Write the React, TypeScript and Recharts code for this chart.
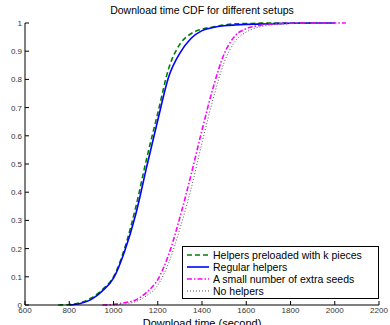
import React from "react";
import { LineChart, Line, XAxis, YAxis } from "recharts";

const times = [
  750, 800, 850, 900, 950, 1000, 1050, 1100, 1150, 1200, 1250, 1300, 1350,
  1400, 1450, 1500, 1550, 1600, 1650, 1700, 1800, 1900, 2000, 2050,
];

// CDF values per setup (null = not plotted at that time)
const preloaded = [
  0, 0.002, 0.008, 0.025, 0.055, 0.1, 0.2, 0.345, 0.52, 0.68, 0.84, 0.925,
  0.962, 0.978, 0.986, 0.993, 0.997, 0.998, 0.999, 1, 1, 1, null, null,
];
const regular = [
  null, 0, 0.005, 0.02, 0.05, 0.095, 0.19, 0.32, 0.49, 0.655, 0.81, 0.893,
  0.945, 0.973, 0.984, 0.99, 0.993, 0.995, 0.996, 0.997, 0.999, 1, 1, null,
];
const extraSeeds = [
  null, null, null, null, 0, 0.002, 0.008, 0.018, 0.045, 0.09, 0.18, 0.31,
  0.46, 0.62, 0.77, 0.89, 0.955, 0.98, 0.99, 0.996, 0.999, 1, 1, 1,
];
const noHelpers = [
  null, null, null, null, null, 0, 0.004, 0.012, 0.033, 0.07, 0.15, 0.27,
  0.41, 0.575, 0.73, 0.86, 0.935, 0.968, 0.984, 0.992, 0.998, 1, 1, null,
];

const xTicks = [600, 800, 1000, 1200, 1400, 1600, 1800, 2000, 2200];
const yTicks = [0, 0.1, 0.2, 0.3, 0.4, 0.5, 0.6, 0.7, 0.8, 0.9, 1];

const series = [
  { key: "preloaded", name: "Helpers preloaded with k pieces", color: "#007f00", dash: "5 3", width: 1.6 },
  { key: "regular", name: "Regular helpers", color: "#0000ff", dash: undefined, width: 1.6 },
  { key: "extraSeeds", name: "A small number of extra seeds", color: "#ff00ff", dash: "5 2 1.5 2", width: 1.6 },
  { key: "noHelpers", name: "No helpers", color: "#555555", dash: "1 2", width: 1 },
];

const data = times.map((t, i) => ({
  time: t,
  preloaded: preloaded[i],
  regular: regular[i],
  extraSeeds: extraSeeds[i],
  noHelpers: noHelpers[i],
}));

const FONT = "'Liberation Sans', Arial, sans-serif";

function XTick(props: any) {
  const { x, y, payload } = props;
  return (
    <g>
      <line x1={x} y1={y - 2} x2={x} y2={y - 6} stroke="#000" strokeWidth={1} />
      <text x={x} y={y + 6} textAnchor="middle" fontSize={8} fill="#333" fontFamily={FONT}>
        {payload.value}
      </text>
    </g>
  );
}

function YTick(props: any) {
  const { x, y, payload } = props;
  return (
    <g>
      <line x1={x + 3} y1={y} x2={x + 7} y2={y} stroke="#000" strokeWidth={1} />
      <text x={x} y={y + 3} textAnchor="end" fontSize={8} fill="#333" fontFamily={FONT}>
        {payload.value}
      </text>
    </g>
  );
}

function LegendBox() {
  return (
    <div
      style={{
        position: "absolute",
        left: 182,
        top: 246,
        border: "1.5px solid #000",
        background: "#fff",
        width: 197,
        padding: "2px 0 1px 0",
        fontFamily: FONT,
        fontSize: 10.5,
        color: "#000",
        boxSizing: "border-box",
      }}
    >
      {series.map((s) => (
        <div key={s.key} style={{ display: "flex", alignItems: "center", height: 12 }}>
          <svg width={30} height={10} style={{ flex: "none" }}>
            <line
              x1={4}
              y1={5}
              x2={26}
              y2={5}
              stroke={s.color}
              strokeWidth={s.width}
              strokeDasharray={s.dash}
            />
          </svg>
          <span style={{ lineHeight: "11px", whiteSpace: "nowrap" }}>{s.name}</span>
        </div>
      ))}
    </div>
  );
}

export default function App() {
  return (
    <div style={{ position: "absolute", left: 0, top: 0, width: 390, height: 325, background: "#fff", overflow: "hidden" }}>
      <div
        style={{
          position: "absolute",
          top: 4,
          left: 25,
          width: 354,
          textAlign: "center",
          fontFamily: FONT,
          fontSize: 10.5,
          color: "#000",
        }}
      >
        Download time CDF for different setups
      </div>
      <LineChart
        width={390}
        height={325}
        data={data}
        margin={{ top: 23, right: 11, bottom: 0, left: 0 }}
      >
        <XAxis
          dataKey="time"
          type="number"
          domain={[600, 2200]}
          ticks={xTicks}
          interval={0}
          height={20}
          tickSize={0}
          tickMargin={2}
          tickLine={false}
          axisLine={{ stroke: "#000" }}
          tick={<XTick />}
          label={{
            value: "Download time (second)",
            position: "insideBottom",
            offset: -2,
            fontSize: 11,
            fill: "#000",
            fontFamily: FONT,
          }}
        />
        <YAxis
          type="number"
          domain={[0, 1]}
          ticks={yTicks}
          interval={0}
          width={25}
          tickSize={0}
          tickMargin={3}
          tickLine={false}
          axisLine={{ stroke: "#000" }}
          tick={<YTick />}
        />
        {series.map((s) => (
          <Line
            key={s.key}
            dataKey={s.key}
            name={s.name}
            type="monotone"
            stroke={s.color}
            strokeWidth={s.width}
            strokeDasharray={s.dash}
            dot={false}
            activeDot={false}
            isAnimationActive={false}
          />
        ))}
      </LineChart>
      <LegendBox />
    </div>
  );
}
